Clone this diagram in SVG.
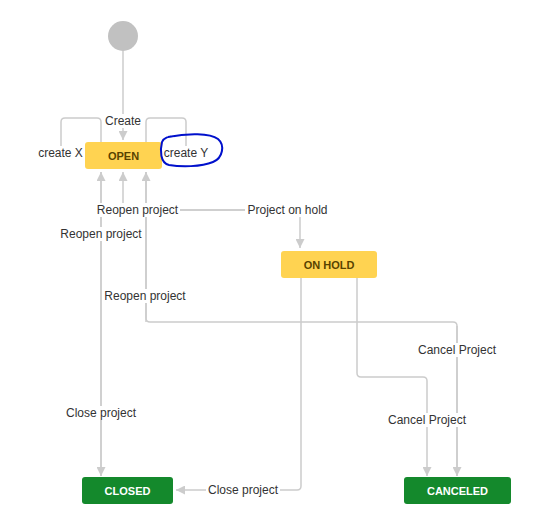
<svg xmlns="http://www.w3.org/2000/svg" width="550" height="520" viewBox="0 0 550 520">
<style>
.ln{fill:none;stroke:#cccccc;stroke-width:1.5}
.lb{font-family:"Liberation Sans",Arial,sans-serif;font-size:12px;fill:#333333;text-anchor:middle}
.bg{fill:#ffffff}
.st{font-family:"Liberation Sans",Arial,sans-serif;font-size:11px;font-weight:bold;text-anchor:middle}
.yl{fill:#ffd351}
.gr{fill:#14892c}
</style>
<defs>
<marker id="ah" viewBox="0 0 10 10" refX="10" refY="5" markerWidth="9" markerHeight="9" markerUnits="userSpaceOnUse" orient="auto">
<path d="M0,0 L10,5 L0,10 z" fill="#cccccc"/>
</marker>
</defs>
<rect width="550" height="520" fill="#ffffff"/>
<g id="connectors">
<path class="ln" d="M123,51 V140" marker-end="url(#ah)"/>
<path class="ln" d="M101,142 V122 Q101,118 97,118 H65 Q61,118 61,122 V146"/>
<path class="ln" d="M146,142 V122 Q146,118 150,118 H182 Q186,118 186,122 V146"/>
<path class="ln" d="M101,476 V172" marker-end="url(#ah)"/>
<path class="ln" d="M101,172 V476" marker-end="url(#ah)"/>
<path class="ln" d="M300,210 H123 V172" marker-end="url(#ah)"/>
<path class="ln" d="M123,210 H296 Q300,210 300,214 V248" marker-end="url(#ah)"/>
<path class="ln" d="M146,172 V318 Q146,322 150,322 H453 Q457,322 457,326 V476" marker-end="url(#ah)"/>
<path class="ln" d="M457,476 V326" />
<path class="ln" d="M146,322 V172" marker-end="url(#ah)"/>
<path class="ln" d="M301,278 V486 Q301,490 297,490 H176" marker-end="url(#ah)"/>
<path class="ln" d="M357,278 V373 Q357,377 361,377 H423 Q427,377 427,381 V476" marker-end="url(#ah)"/>
</g>
<g id="labels">
<rect class="bg" x="104" y="114" width="38" height="14"/><text class="lb" x="123" y="125">Create</text>
<rect class="bg" x="37" y="146" width="47" height="14"/><text class="lb" x="60.5" y="157">create X</text>
<rect class="bg" x="163" y="146" width="46" height="14"/><text class="lb" x="186" y="157">create Y</text>
<rect class="bg" x="95" y="203" width="85" height="14"/><text class="lb" x="137.5" y="214">Reopen project</text>
<rect class="bg" x="245" y="203" width="85" height="14"/><text class="lb" x="287.5" y="214">Project on hold</text>
<rect class="bg" x="59" y="227" width="85" height="14"/><text class="lb" x="101" y="238">Reopen project</text>
<rect class="bg" x="103" y="289" width="85" height="14"/><text class="lb" x="145" y="300">Reopen project</text>
<rect class="bg" x="417" y="343" width="80" height="14"/><text class="lb" x="457" y="354">Cancel Project</text>
<rect class="bg" x="64" y="406" width="74" height="14"/><text class="lb" x="101" y="417">Close project</text>
<rect class="bg" x="387" y="413" width="80" height="14"/><text class="lb" x="427" y="424">Cancel Project</text>
<rect class="bg" x="206" y="483" width="74" height="14"/><text class="lb" x="243" y="494">Close project</text>
</g>
<g id="start"><circle cx="123" cy="36" r="15" fill="#c1c1c1"/></g>
<g id="open"><rect class="yl" x="85" y="142" width="77" height="27" rx="3"/><text class="st" x="123.5" y="159.5" fill="#594300">OPEN</text></g>
<g id="onhold"><rect class="yl" x="281" y="251" width="96" height="27" rx="3"/><text class="st" x="329" y="268.5" fill="#594300">ON HOLD</text></g>
<g id="closed"><rect class="gr" x="82" y="477" width="91" height="27" rx="3"/><text class="st" x="127.5" y="494.5" fill="#ffffff">CLOSED</text></g>
<g id="canceled"><rect class="gr" x="404" y="477" width="107" height="27" rx="3"/><text class="st" x="457.5" y="494.5" fill="#ffffff">CANCELED</text></g>
<g id="highlight"><path d="M168,137 C188,133 210,133 218,139 C225,145 223,158 213,162 C201,167 181,167 169,165 C160,163 160,150 162,142 C164,137 170,136 176,136" fill="none" stroke="#0010cc" stroke-width="2"/></g>
</svg>
